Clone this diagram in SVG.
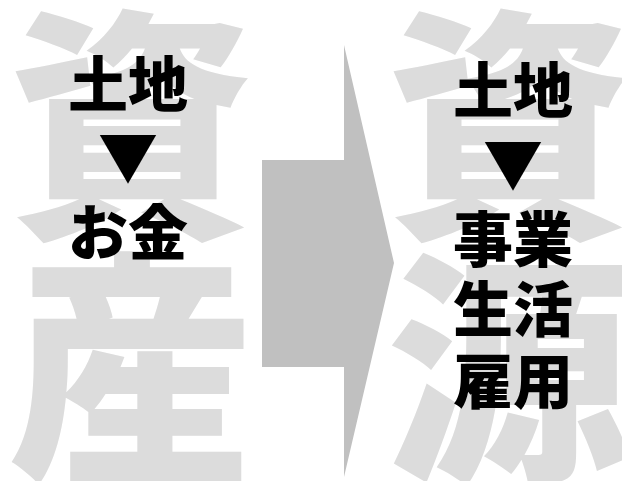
<svg xmlns="http://www.w3.org/2000/svg" width="622" height="481" viewBox="0 0 622 481">
<style>
.big{font-family:"Noto Sans CJK JP","Noto Sans CJK SC",sans-serif;font-weight:900;font-size:245px;fill:#dcdcdc;text-anchor:middle}
.lbl{font-family:"Noto Sans CJK JP","Noto Sans CJK SC",sans-serif;font-weight:900;font-size:60px;fill:#000;text-anchor:middle}
</style>
<rect width="622" height="481" fill="#fff"/>
<g id="bg-left">
<text class="big" x="131" y="219">資</text>
<text class="big" x="131" y="462">産</text>
</g>
<g id="bg-right">
<text class="big" x="509" y="219">資</text>
<text class="big" x="509" y="462">源</text>
</g>
<g id="connectors">
<polygon points="262,160 344,160 344,45 394,263 344,477 344,367 262,367" fill="#c0c0c0"/>
</g>
<g id="left-node">
<text class="lbl" x="128" y="107">土地</text>
<text class="lbl" x="128" y="180">▼</text>
<text class="lbl" x="128" y="255">お金</text>
</g>
<g id="right-node">
<text class="lbl" x="513" y="113">土地</text>
<text class="lbl" x="513" y="187">▼</text>
<text class="lbl" x="513" y="262">事業</text>
<text class="lbl" x="513" y="332">生活</text>
<text class="lbl" x="513" y="404">雇用</text>
</g>
</svg>
